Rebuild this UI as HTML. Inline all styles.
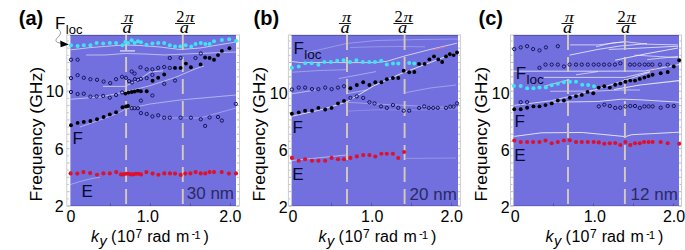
<!DOCTYPE html><html><head><meta charset="utf-8"><style>html,body{margin:0;padding:0;background:#fff;overflow:hidden;}svg{display:block;}</style></head><body>
<svg width="685" height="250" viewBox="0 0 685 250">
<rect width="685" height="250" fill="#fff"/>
<rect x="66.8" y="35" width="172.7" height="171" fill="none" stroke="#cccccc" stroke-width="1"/>
<rect x="70.4" y="35" width="165.6" height="171" fill="#7170de"/>
<rect x="70.4" y="35" width="165.6" height="1" fill="#4e4ea6" opacity="0.8"/>
<rect x="70.4" y="205.2" width="165.6" height="0.8" fill="#5252aa" opacity="0.6"/>
<rect x="67.3" y="205.50" width="2.2" height="1" fill="#888" opacity="0.55"/>
<rect x="236.8" y="205.50" width="2.2" height="1" fill="#888" opacity="0.55"/>
<rect x="67.3" y="198.32" width="1.4" height="1" fill="#888" opacity="0.55"/>
<rect x="237.6" y="198.32" width="1.4" height="1" fill="#888" opacity="0.55"/>
<rect x="67.3" y="191.15" width="2.2" height="1" fill="#888" opacity="0.55"/>
<rect x="236.8" y="191.15" width="2.2" height="1" fill="#888" opacity="0.55"/>
<rect x="67.3" y="183.97" width="1.4" height="1" fill="#888" opacity="0.55"/>
<rect x="237.6" y="183.97" width="1.4" height="1" fill="#888" opacity="0.55"/>
<rect x="67.3" y="176.80" width="2.2" height="1" fill="#888" opacity="0.55"/>
<rect x="236.8" y="176.80" width="2.2" height="1" fill="#888" opacity="0.55"/>
<rect x="67.3" y="169.62" width="1.4" height="1" fill="#888" opacity="0.55"/>
<rect x="237.6" y="169.62" width="1.4" height="1" fill="#888" opacity="0.55"/>
<rect x="67.3" y="162.45" width="2.2" height="1" fill="#888" opacity="0.55"/>
<rect x="236.8" y="162.45" width="2.2" height="1" fill="#888" opacity="0.55"/>
<rect x="67.3" y="155.28" width="1.4" height="1" fill="#888" opacity="0.55"/>
<rect x="237.6" y="155.28" width="1.4" height="1" fill="#888" opacity="0.55"/>
<rect x="67.3" y="148.10" width="2.2" height="1" fill="#888" opacity="0.55"/>
<rect x="236.8" y="148.10" width="2.2" height="1" fill="#888" opacity="0.55"/>
<rect x="67.3" y="140.93" width="1.4" height="1" fill="#888" opacity="0.55"/>
<rect x="237.6" y="140.93" width="1.4" height="1" fill="#888" opacity="0.55"/>
<rect x="67.3" y="133.75" width="2.2" height="1" fill="#888" opacity="0.55"/>
<rect x="236.8" y="133.75" width="2.2" height="1" fill="#888" opacity="0.55"/>
<rect x="67.3" y="126.58" width="1.4" height="1" fill="#888" opacity="0.55"/>
<rect x="237.6" y="126.58" width="1.4" height="1" fill="#888" opacity="0.55"/>
<rect x="67.3" y="119.40" width="2.2" height="1" fill="#888" opacity="0.55"/>
<rect x="236.8" y="119.40" width="2.2" height="1" fill="#888" opacity="0.55"/>
<rect x="67.3" y="112.23" width="1.4" height="1" fill="#888" opacity="0.55"/>
<rect x="237.6" y="112.23" width="1.4" height="1" fill="#888" opacity="0.55"/>
<rect x="67.3" y="105.05" width="2.2" height="1" fill="#888" opacity="0.55"/>
<rect x="236.8" y="105.05" width="2.2" height="1" fill="#888" opacity="0.55"/>
<rect x="67.3" y="97.88" width="1.4" height="1" fill="#888" opacity="0.55"/>
<rect x="237.6" y="97.88" width="1.4" height="1" fill="#888" opacity="0.55"/>
<rect x="67.3" y="90.70" width="2.2" height="1" fill="#888" opacity="0.55"/>
<rect x="236.8" y="90.70" width="2.2" height="1" fill="#888" opacity="0.55"/>
<rect x="67.3" y="83.53" width="1.4" height="1" fill="#888" opacity="0.55"/>
<rect x="237.6" y="83.53" width="1.4" height="1" fill="#888" opacity="0.55"/>
<rect x="67.3" y="76.35" width="2.2" height="1" fill="#888" opacity="0.55"/>
<rect x="236.8" y="76.35" width="2.2" height="1" fill="#888" opacity="0.55"/>
<rect x="67.3" y="69.18" width="1.4" height="1" fill="#888" opacity="0.55"/>
<rect x="237.6" y="69.18" width="1.4" height="1" fill="#888" opacity="0.55"/>
<rect x="67.3" y="62.00" width="2.2" height="1" fill="#888" opacity="0.55"/>
<rect x="236.8" y="62.00" width="2.2" height="1" fill="#888" opacity="0.55"/>
<rect x="67.3" y="54.83" width="1.4" height="1" fill="#888" opacity="0.55"/>
<rect x="237.6" y="54.83" width="1.4" height="1" fill="#888" opacity="0.55"/>
<rect x="67.3" y="47.65" width="2.2" height="1" fill="#888" opacity="0.55"/>
<rect x="236.8" y="47.65" width="2.2" height="1" fill="#888" opacity="0.55"/>
<rect x="67.3" y="40.47" width="1.4" height="1" fill="#888" opacity="0.55"/>
<rect x="237.6" y="40.47" width="1.4" height="1" fill="#888" opacity="0.55"/>
<rect x="109.9" y="203.5" width="1" height="2.5" fill="#333" opacity="0.5"/>
<rect x="149.9" y="203.5" width="1" height="2.5" fill="#333" opacity="0.5"/>
<rect x="189.9" y="203.5" width="1" height="2.5" fill="#333" opacity="0.5"/>
<rect x="229.9" y="203.5" width="1" height="2.5" fill="#333" opacity="0.5"/>
<polyline points="71.0,49.8 91.0,47.5 110.0,46.0 125.0,45.0 140.0,45.5 160.0,47.0 180.0,49.5 200.0,48.0 236.0,42.0" fill="none" stroke="#fff" stroke-opacity="0.59" stroke-width="1"/>
<polyline points="86.0,55.0 105.0,55.0 125.0,53.5 145.0,54.0 165.0,55.0 185.0,54.0 236.0,52.0" fill="none" stroke="#fff" stroke-opacity="0.52" stroke-width="1"/>
<polyline points="120.0,50.9 135.0,50.9" fill="none" stroke="#fff" stroke-opacity="0.75" stroke-width="1.3"/>
<polyline points="71.0,99.2 100.0,97.0 125.0,92.0 150.0,85.7 175.0,77.5 196.0,68.6 204.0,66.0" fill="none" stroke="#fff" stroke-opacity="0.52" stroke-width="1"/>
<polyline points="80.0,127.0 100.0,120.0 116.0,114.0 126.0,109.0 150.0,104.0 180.0,100.0 236.0,95.0" fill="none" stroke="#fff" stroke-opacity="0.45" stroke-width="1"/>
<polyline points="103.0,86.4 125.0,86.4 140.0,79.0 150.0,72.0 163.0,70.8" fill="none" stroke="#fff" stroke-opacity="0.59" stroke-width="1"/>
<polyline points="70.5,184.5 80.0,181.5 92.0,178.5 100.0,177.2" fill="none" stroke="#fff" stroke-opacity="0.36" stroke-width="1"/>
<polyline points="160.0,118.0 200.0,118.0 236.0,108.0" fill="none" stroke="#fff" stroke-opacity="0.33" stroke-width="1"/>
<line x1="126.1" y1="35" x2="126.1" y2="206" stroke="#d4cbbb" stroke-width="1.9" stroke-dasharray="15 7"/>
<line x1="182.8" y1="35" x2="182.8" y2="206" stroke="#d4cbbb" stroke-width="1.9" stroke-dasharray="15 7"/>
<circle cx="71.0" cy="59.7" r="1.65" fill="none" stroke="#16165c" stroke-width="1"/>
<circle cx="77.6" cy="59.7" r="1.65" fill="none" stroke="#16165c" stroke-width="1"/>
<circle cx="169.8" cy="58.0" r="1.65" fill="none" stroke="#16165c" stroke-width="1"/>
<circle cx="180.6" cy="58.0" r="1.65" fill="none" stroke="#16165c" stroke-width="1"/>
<circle cx="195.5" cy="58.0" r="1.65" fill="none" stroke="#16165c" stroke-width="1"/>
<circle cx="200.8" cy="53.5" r="1.65" fill="none" stroke="#16165c" stroke-width="1"/>
<circle cx="140.5" cy="67.3" r="1.65" fill="none" stroke="#16165c" stroke-width="1"/>
<circle cx="146.7" cy="69.3" r="1.65" fill="none" stroke="#16165c" stroke-width="1"/>
<circle cx="152.4" cy="69.3" r="1.65" fill="none" stroke="#16165c" stroke-width="1"/>
<circle cx="158.2" cy="67.9" r="1.65" fill="none" stroke="#16165c" stroke-width="1"/>
<circle cx="164.2" cy="67.0" r="1.65" fill="none" stroke="#16165c" stroke-width="1"/>
<circle cx="169.8" cy="67.9" r="1.65" fill="none" stroke="#16165c" stroke-width="1"/>
<circle cx="131.7" cy="71.5" r="1.65" fill="none" stroke="#16165c" stroke-width="1"/>
<circle cx="134.6" cy="73.6" r="1.65" fill="none" stroke="#16165c" stroke-width="1"/>
<circle cx="152.4" cy="74.9" r="1.65" fill="none" stroke="#16165c" stroke-width="1"/>
<circle cx="71.0" cy="78.1" r="1.65" fill="none" stroke="#16165c" stroke-width="1"/>
<circle cx="77.6" cy="75.2" r="1.65" fill="none" stroke="#16165c" stroke-width="1"/>
<circle cx="83.8" cy="77.8" r="1.65" fill="none" stroke="#16165c" stroke-width="1"/>
<circle cx="90.4" cy="79.2" r="1.65" fill="none" stroke="#16165c" stroke-width="1"/>
<circle cx="97.0" cy="79.8" r="1.65" fill="none" stroke="#16165c" stroke-width="1"/>
<circle cx="103.6" cy="81.5" r="1.65" fill="none" stroke="#16165c" stroke-width="1"/>
<circle cx="110.2" cy="83.1" r="1.65" fill="none" stroke="#16165c" stroke-width="1"/>
<circle cx="116.1" cy="79.2" r="1.65" fill="none" stroke="#16165c" stroke-width="1"/>
<circle cx="122.1" cy="76.8" r="1.65" fill="none" stroke="#16165c" stroke-width="1"/>
<circle cx="126.0" cy="77.8" r="1.65" fill="none" stroke="#16165c" stroke-width="1"/>
<circle cx="129.1" cy="81.1" r="1.65" fill="none" stroke="#16165c" stroke-width="1"/>
<circle cx="132.0" cy="82.4" r="1.65" fill="none" stroke="#16165c" stroke-width="1"/>
<circle cx="134.9" cy="79.2" r="1.65" fill="none" stroke="#16165c" stroke-width="1"/>
<circle cx="137.9" cy="79.8" r="1.65" fill="none" stroke="#16165c" stroke-width="1"/>
<circle cx="140.9" cy="78.9" r="1.65" fill="none" stroke="#16165c" stroke-width="1"/>
<circle cx="146.7" cy="78.1" r="1.65" fill="none" stroke="#16165c" stroke-width="1"/>
<circle cx="164.2" cy="83.8" r="1.65" fill="none" stroke="#16165c" stroke-width="1"/>
<circle cx="175.0" cy="80.5" r="1.65" fill="none" stroke="#16165c" stroke-width="1"/>
<circle cx="71.0" cy="92.0" r="1.65" fill="none" stroke="#16165c" stroke-width="1"/>
<circle cx="77.6" cy="94.0" r="1.65" fill="none" stroke="#16165c" stroke-width="1"/>
<circle cx="83.8" cy="93.7" r="1.65" fill="none" stroke="#16165c" stroke-width="1"/>
<circle cx="90.4" cy="96.6" r="1.65" fill="none" stroke="#16165c" stroke-width="1"/>
<circle cx="96.6" cy="96.3" r="1.65" fill="none" stroke="#16165c" stroke-width="1"/>
<circle cx="103.2" cy="95.9" r="1.65" fill="none" stroke="#16165c" stroke-width="1"/>
<circle cx="109.8" cy="97.7" r="1.65" fill="none" stroke="#16165c" stroke-width="1"/>
<circle cx="116.1" cy="95.0" r="1.65" fill="none" stroke="#16165c" stroke-width="1"/>
<circle cx="122.1" cy="92.4" r="1.65" fill="none" stroke="#16165c" stroke-width="1"/>
<circle cx="140.9" cy="100.6" r="1.65" fill="none" stroke="#16165c" stroke-width="1"/>
<circle cx="152.4" cy="95.5" r="1.65" fill="none" stroke="#16165c" stroke-width="1"/>
<circle cx="235.8" cy="103.9" r="1.65" fill="none" stroke="#16165c" stroke-width="1"/>
<circle cx="131.7" cy="108.2" r="1.65" fill="none" stroke="#16165c" stroke-width="1"/>
<circle cx="134.6" cy="108.2" r="1.65" fill="none" stroke="#16165c" stroke-width="1"/>
<circle cx="137.9" cy="108.2" r="1.65" fill="none" stroke="#16165c" stroke-width="1"/>
<circle cx="140.9" cy="113.1" r="1.65" fill="none" stroke="#16165c" stroke-width="1"/>
<circle cx="146.7" cy="114.0" r="1.65" fill="none" stroke="#16165c" stroke-width="1"/>
<circle cx="152.4" cy="116.4" r="1.65" fill="none" stroke="#16165c" stroke-width="1"/>
<circle cx="158.2" cy="115.3" r="1.65" fill="none" stroke="#16165c" stroke-width="1"/>
<circle cx="164.2" cy="117.7" r="1.65" fill="none" stroke="#16165c" stroke-width="1"/>
<circle cx="169.8" cy="117.7" r="1.65" fill="none" stroke="#16165c" stroke-width="1"/>
<circle cx="180.6" cy="117.7" r="1.65" fill="none" stroke="#16165c" stroke-width="1"/>
<circle cx="190.9" cy="117.7" r="1.65" fill="none" stroke="#16165c" stroke-width="1"/>
<circle cx="200.8" cy="119.3" r="1.65" fill="none" stroke="#16165c" stroke-width="1"/>
<circle cx="205.1" cy="125.9" r="1.65" fill="none" stroke="#16165c" stroke-width="1"/>
<circle cx="209.6" cy="117.4" r="1.65" fill="none" stroke="#16165c" stroke-width="1"/>
<circle cx="218.0" cy="117.0" r="1.65" fill="none" stroke="#16165c" stroke-width="1"/>
<circle cx="221.9" cy="120.6" r="1.65" fill="none" stroke="#16165c" stroke-width="1"/>
<circle cx="205.1" cy="57.5" r="1.95" fill="#000"/>
<circle cx="209.6" cy="58.0" r="1.95" fill="#000"/>
<circle cx="214.0" cy="59.7" r="1.95" fill="#000"/>
<circle cx="218.0" cy="55.1" r="1.95" fill="#000"/>
<circle cx="221.9" cy="50.9" r="1.95" fill="#000"/>
<circle cx="229.4" cy="48.2" r="1.95" fill="#000"/>
<circle cx="185.9" cy="63.6" r="1.95" fill="#000"/>
<circle cx="190.9" cy="67.3" r="1.95" fill="#000"/>
<circle cx="200.6" cy="64.4" r="1.95" fill="#000"/>
<circle cx="175.0" cy="67.9" r="1.95" fill="#000"/>
<circle cx="180.6" cy="67.9" r="1.95" fill="#000"/>
<circle cx="152.6" cy="80.7" r="1.95" fill="#000"/>
<circle cx="158.2" cy="77.8" r="1.95" fill="#000"/>
<circle cx="164.2" cy="74.5" r="1.95" fill="#000"/>
<circle cx="125.4" cy="93.6" r="1.95" fill="#000"/>
<circle cx="128.5" cy="92.6" r="1.95" fill="#000"/>
<circle cx="131.7" cy="92.0" r="1.95" fill="#000"/>
<circle cx="134.6" cy="91.5" r="1.95" fill="#000"/>
<circle cx="137.9" cy="90.8" r="1.95" fill="#000"/>
<circle cx="140.9" cy="91.2" r="1.95" fill="#000"/>
<circle cx="146.7" cy="91.2" r="1.95" fill="#000"/>
<circle cx="71.0" cy="125.2" r="1.95" fill="#000"/>
<circle cx="77.6" cy="122.9" r="1.95" fill="#000"/>
<circle cx="83.8" cy="121.9" r="1.95" fill="#000"/>
<circle cx="90.4" cy="121.0" r="1.95" fill="#000"/>
<circle cx="97.0" cy="119.3" r="1.95" fill="#000"/>
<circle cx="103.6" cy="117.0" r="1.95" fill="#000"/>
<circle cx="109.8" cy="114.4" r="1.95" fill="#000"/>
<circle cx="116.1" cy="112.2" r="1.95" fill="#000"/>
<circle cx="122.5" cy="107.2" r="1.95" fill="#000"/>
<circle cx="126.0" cy="106.5" r="1.95" fill="#000"/>
<circle cx="128.0" cy="106.0" r="1.95" fill="#000"/>
<circle cx="71.0" cy="45.2" r="2.0" fill="#3fe3f2"/>
<circle cx="77.6" cy="45.9" r="2.0" fill="#3fe3f2"/>
<circle cx="83.8" cy="45.2" r="2.0" fill="#3fe3f2"/>
<circle cx="90.4" cy="45.2" r="2.0" fill="#3fe3f2"/>
<circle cx="96.6" cy="43.0" r="2.0" fill="#3fe3f2"/>
<circle cx="103.2" cy="43.5" r="2.0" fill="#3fe3f2"/>
<circle cx="109.8" cy="43.0" r="2.0" fill="#3fe3f2"/>
<circle cx="116.1" cy="43.0" r="2.0" fill="#3fe3f2"/>
<circle cx="122.5" cy="45.2" r="2.0" fill="#3fe3f2"/>
<circle cx="125.4" cy="41.9" r="2.0" fill="#3fe3f2"/>
<circle cx="128.0" cy="43.0" r="2.0" fill="#3fe3f2"/>
<circle cx="131.7" cy="40.3" r="2.0" fill="#3fe3f2"/>
<circle cx="134.6" cy="43.0" r="2.0" fill="#3fe3f2"/>
<circle cx="137.9" cy="41.3" r="2.0" fill="#3fe3f2"/>
<circle cx="141.0" cy="42.2" r="2.0" fill="#3fe3f2"/>
<circle cx="146.5" cy="44.8" r="2.0" fill="#3fe3f2"/>
<circle cx="152.4" cy="43.5" r="2.0" fill="#3fe3f2"/>
<circle cx="158.2" cy="43.0" r="2.0" fill="#3fe3f2"/>
<circle cx="164.2" cy="43.0" r="2.0" fill="#3fe3f2"/>
<circle cx="169.8" cy="45.2" r="2.0" fill="#3fe3f2"/>
<circle cx="175.0" cy="46.5" r="2.0" fill="#3fe3f2"/>
<circle cx="180.3" cy="46.5" r="2.0" fill="#3fe3f2"/>
<circle cx="185.6" cy="45.2" r="2.0" fill="#3fe3f2"/>
<circle cx="191.2" cy="46.5" r="2.0" fill="#3fe3f2"/>
<circle cx="195.5" cy="43.9" r="2.0" fill="#3fe3f2"/>
<circle cx="200.8" cy="43.0" r="2.0" fill="#3fe3f2"/>
<circle cx="205.4" cy="43.9" r="2.0" fill="#3fe3f2"/>
<circle cx="209.6" cy="43.9" r="2.0" fill="#3fe3f2"/>
<circle cx="214.0" cy="41.3" r="2.0" fill="#3fe3f2"/>
<circle cx="221.9" cy="39.9" r="2.0" fill="#3fe3f2"/>
<circle cx="229.2" cy="39.3" r="2.0" fill="#3fe3f2"/>
<circle cx="236.0" cy="40.9" r="2.0" fill="#3fe3f2"/>
<circle cx="70.6" cy="173.4" r="2.05" fill="#e0102a"/>
<circle cx="77.3" cy="173.6" r="2.05" fill="#e0102a"/>
<circle cx="83.4" cy="172.1" r="2.05" fill="#e0102a"/>
<circle cx="90.1" cy="173.1" r="2.05" fill="#e0102a"/>
<circle cx="97.0" cy="174.7" r="2.05" fill="#e0102a"/>
<circle cx="103.4" cy="173.4" r="2.05" fill="#e0102a"/>
<circle cx="109.8" cy="173.4" r="2.05" fill="#e0102a"/>
<circle cx="116.2" cy="172.1" r="2.05" fill="#e0102a"/>
<circle cx="146.4" cy="172.1" r="2.05" fill="#e0102a"/>
<circle cx="152.6" cy="173.6" r="2.05" fill="#e0102a"/>
<circle cx="158.4" cy="174.7" r="2.05" fill="#e0102a"/>
<circle cx="164.3" cy="173.4" r="2.05" fill="#e0102a"/>
<circle cx="170.0" cy="173.4" r="2.05" fill="#e0102a"/>
<circle cx="175.1" cy="173.6" r="2.05" fill="#e0102a"/>
<circle cx="180.7" cy="174.9" r="2.05" fill="#e0102a"/>
<circle cx="185.3" cy="173.6" r="2.05" fill="#e0102a"/>
<circle cx="190.4" cy="173.4" r="2.05" fill="#e0102a"/>
<circle cx="195.6" cy="172.1" r="2.05" fill="#e0102a"/>
<circle cx="200.7" cy="173.4" r="2.05" fill="#e0102a"/>
<circle cx="205.3" cy="173.4" r="2.05" fill="#e0102a"/>
<circle cx="209.6" cy="172.1" r="2.05" fill="#e0102a"/>
<circle cx="214.0" cy="172.1" r="2.05" fill="#e0102a"/>
<circle cx="221.7" cy="172.1" r="2.05" fill="#e0102a"/>
<circle cx="228.9" cy="173.6" r="2.05" fill="#e0102a"/>
<circle cx="236.0" cy="173.4" r="2.05" fill="#e0102a"/>
<circle cx="121.0" cy="174.4" r="2.05" fill="#e0102a"/>
<circle cx="123.5" cy="174.4" r="2.05" fill="#e0102a"/>
<circle cx="126.0" cy="173.7" r="2.05" fill="#e0102a"/>
<circle cx="128.5" cy="173.7" r="2.05" fill="#e0102a"/>
<circle cx="131.0" cy="174.4" r="2.05" fill="#e0102a"/>
<circle cx="133.5" cy="174.4" r="2.05" fill="#e0102a"/>
<circle cx="136.0" cy="173.7" r="2.05" fill="#e0102a"/>
<circle cx="138.5" cy="173.7" r="2.05" fill="#e0102a"/>
<circle cx="141.0" cy="174.4" r="2.05" fill="#e0102a"/>
<rect x="288.4" y="35" width="172.0" height="171" fill="none" stroke="#cccccc" stroke-width="1"/>
<rect x="291.6" y="35" width="166.39999999999998" height="171" fill="#7170de"/>
<rect x="291.6" y="35" width="166.39999999999998" height="1" fill="#4e4ea6" opacity="0.8"/>
<rect x="291.6" y="205.2" width="166.39999999999998" height="0.8" fill="#5252aa" opacity="0.6"/>
<rect x="288.9" y="205.50" width="2.2" height="1" fill="#888" opacity="0.55"/>
<rect x="457.7" y="205.50" width="2.2" height="1" fill="#888" opacity="0.55"/>
<rect x="288.9" y="198.32" width="1.4" height="1" fill="#888" opacity="0.55"/>
<rect x="458.5" y="198.32" width="1.4" height="1" fill="#888" opacity="0.55"/>
<rect x="288.9" y="191.15" width="2.2" height="1" fill="#888" opacity="0.55"/>
<rect x="457.7" y="191.15" width="2.2" height="1" fill="#888" opacity="0.55"/>
<rect x="288.9" y="183.97" width="1.4" height="1" fill="#888" opacity="0.55"/>
<rect x="458.5" y="183.97" width="1.4" height="1" fill="#888" opacity="0.55"/>
<rect x="288.9" y="176.80" width="2.2" height="1" fill="#888" opacity="0.55"/>
<rect x="457.7" y="176.80" width="2.2" height="1" fill="#888" opacity="0.55"/>
<rect x="288.9" y="169.62" width="1.4" height="1" fill="#888" opacity="0.55"/>
<rect x="458.5" y="169.62" width="1.4" height="1" fill="#888" opacity="0.55"/>
<rect x="288.9" y="162.45" width="2.2" height="1" fill="#888" opacity="0.55"/>
<rect x="457.7" y="162.45" width="2.2" height="1" fill="#888" opacity="0.55"/>
<rect x="288.9" y="155.28" width="1.4" height="1" fill="#888" opacity="0.55"/>
<rect x="458.5" y="155.28" width="1.4" height="1" fill="#888" opacity="0.55"/>
<rect x="288.9" y="148.10" width="2.2" height="1" fill="#888" opacity="0.55"/>
<rect x="457.7" y="148.10" width="2.2" height="1" fill="#888" opacity="0.55"/>
<rect x="288.9" y="140.93" width="1.4" height="1" fill="#888" opacity="0.55"/>
<rect x="458.5" y="140.93" width="1.4" height="1" fill="#888" opacity="0.55"/>
<rect x="288.9" y="133.75" width="2.2" height="1" fill="#888" opacity="0.55"/>
<rect x="457.7" y="133.75" width="2.2" height="1" fill="#888" opacity="0.55"/>
<rect x="288.9" y="126.58" width="1.4" height="1" fill="#888" opacity="0.55"/>
<rect x="458.5" y="126.58" width="1.4" height="1" fill="#888" opacity="0.55"/>
<rect x="288.9" y="119.40" width="2.2" height="1" fill="#888" opacity="0.55"/>
<rect x="457.7" y="119.40" width="2.2" height="1" fill="#888" opacity="0.55"/>
<rect x="288.9" y="112.23" width="1.4" height="1" fill="#888" opacity="0.55"/>
<rect x="458.5" y="112.23" width="1.4" height="1" fill="#888" opacity="0.55"/>
<rect x="288.9" y="105.05" width="2.2" height="1" fill="#888" opacity="0.55"/>
<rect x="457.7" y="105.05" width="2.2" height="1" fill="#888" opacity="0.55"/>
<rect x="288.9" y="97.88" width="1.4" height="1" fill="#888" opacity="0.55"/>
<rect x="458.5" y="97.88" width="1.4" height="1" fill="#888" opacity="0.55"/>
<rect x="288.9" y="90.70" width="2.2" height="1" fill="#888" opacity="0.55"/>
<rect x="457.7" y="90.70" width="2.2" height="1" fill="#888" opacity="0.55"/>
<rect x="288.9" y="83.53" width="1.4" height="1" fill="#888" opacity="0.55"/>
<rect x="458.5" y="83.53" width="1.4" height="1" fill="#888" opacity="0.55"/>
<rect x="288.9" y="76.35" width="2.2" height="1" fill="#888" opacity="0.55"/>
<rect x="457.7" y="76.35" width="2.2" height="1" fill="#888" opacity="0.55"/>
<rect x="288.9" y="69.18" width="1.4" height="1" fill="#888" opacity="0.55"/>
<rect x="458.5" y="69.18" width="1.4" height="1" fill="#888" opacity="0.55"/>
<rect x="288.9" y="62.00" width="2.2" height="1" fill="#888" opacity="0.55"/>
<rect x="457.7" y="62.00" width="2.2" height="1" fill="#888" opacity="0.55"/>
<rect x="288.9" y="54.83" width="1.4" height="1" fill="#888" opacity="0.55"/>
<rect x="458.5" y="54.83" width="1.4" height="1" fill="#888" opacity="0.55"/>
<rect x="288.9" y="47.65" width="2.2" height="1" fill="#888" opacity="0.55"/>
<rect x="457.7" y="47.65" width="2.2" height="1" fill="#888" opacity="0.55"/>
<rect x="288.9" y="40.47" width="1.4" height="1" fill="#888" opacity="0.55"/>
<rect x="458.5" y="40.47" width="1.4" height="1" fill="#888" opacity="0.55"/>
<rect x="331.1" y="203.5" width="1" height="2.5" fill="#333" opacity="0.5"/>
<rect x="371.1" y="203.5" width="1" height="2.5" fill="#333" opacity="0.5"/>
<rect x="411.1" y="203.5" width="1" height="2.5" fill="#333" opacity="0.5"/>
<rect x="451.1" y="203.5" width="1" height="2.5" fill="#333" opacity="0.5"/>
<polyline points="292.0,93.8 315.6,90.0" fill="none" stroke="#fff" stroke-opacity="0.52" stroke-width="1"/>
<polyline points="292.0,116.2 320.0,110.0 346.3,102.2 374.0,85.7 400.0,74.0 431.6,62.0 458.0,52.0" fill="none" stroke="#fff" stroke-opacity="0.75" stroke-width="1"/>
<polyline points="346.3,102.2 376.0,104.0 460.0,108.0" fill="none" stroke="#fff" stroke-opacity="0.33" stroke-width="1"/>
<polyline points="347.6,111.1 376.0,109.8 420.0,110.0 458.0,109.0" fill="none" stroke="#fff" stroke-opacity="0.2" stroke-width="1"/>
<polyline points="346.3,93.8 366.8,90.0" fill="none" stroke="#fff" stroke-opacity="0.45" stroke-width="1"/>
<polyline points="350.0,47.5 374.0,46.8 400.0,46.5 425.0,46.8" fill="none" stroke="#fff" stroke-opacity="0.26" stroke-width="1"/>
<polyline points="406.0,92.6 430.0,88.0 456.0,85.0" fill="none" stroke="#fff" stroke-opacity="0.33" stroke-width="1"/>
<polyline points="292.0,72.2 320.0,70.5 346.0,69.7" fill="none" stroke="#fff" stroke-opacity="0.33" stroke-width="1"/>
<polyline points="292.0,61.5 300.0,62.5 320.0,62.5 350.0,62.6 375.0,62.6 387.0,61.3 404.7,56.0 430.0,49.5 457.0,43.2" fill="none" stroke="#fff" stroke-opacity="0.65" stroke-width="1"/>
<polyline points="338.7,78.6 376.0,71.6" fill="none" stroke="#fff" stroke-opacity="0.39" stroke-width="1"/>
<polyline points="292.0,160.5 346.0,155.0" fill="none" stroke="#fff" stroke-opacity="0.45" stroke-width="1"/>
<polyline points="406.0,158.4 456.0,158.0" fill="none" stroke="#fff" stroke-opacity="0.26" stroke-width="1"/>
<polyline points="305.0,53.0 325.0,48.5 346.0,43.6 376.0,40.5 420.0,39.5 458.0,39.0" fill="none" stroke="#fff" stroke-opacity="0.29" stroke-width="1"/>
<line x1="347" y1="35" x2="347" y2="206" stroke="#d4cbbb" stroke-width="1.9" stroke-dasharray="15 7"/>
<line x1="404.6" y1="35" x2="404.6" y2="206" stroke="#d4cbbb" stroke-width="1.9" stroke-dasharray="15 7"/>
<circle cx="291.9" cy="89.5" r="1.65" fill="none" stroke="#16165c" stroke-width="1"/>
<circle cx="298.7" cy="87.6" r="1.65" fill="none" stroke="#16165c" stroke-width="1"/>
<circle cx="305.1" cy="87.6" r="1.65" fill="none" stroke="#16165c" stroke-width="1"/>
<circle cx="312.0" cy="89.1" r="1.65" fill="none" stroke="#16165c" stroke-width="1"/>
<circle cx="318.4" cy="89.1" r="1.65" fill="none" stroke="#16165c" stroke-width="1"/>
<circle cx="325.2" cy="87.6" r="1.65" fill="none" stroke="#16165c" stroke-width="1"/>
<circle cx="331.6" cy="89.1" r="1.65" fill="none" stroke="#16165c" stroke-width="1"/>
<circle cx="338.0" cy="87.6" r="1.65" fill="none" stroke="#16165c" stroke-width="1"/>
<circle cx="344.0" cy="86.3" r="1.65" fill="none" stroke="#16165c" stroke-width="1"/>
<circle cx="350.4" cy="97.9" r="1.65" fill="none" stroke="#16165c" stroke-width="1"/>
<circle cx="356.8" cy="96.4" r="1.65" fill="none" stroke="#16165c" stroke-width="1"/>
<circle cx="363.2" cy="97.9" r="1.65" fill="none" stroke="#16165c" stroke-width="1"/>
<circle cx="369.4" cy="102.2" r="1.65" fill="none" stroke="#16165c" stroke-width="1"/>
<circle cx="374.5" cy="103.4" r="1.65" fill="none" stroke="#16165c" stroke-width="1"/>
<circle cx="381.0" cy="106.4" r="1.65" fill="none" stroke="#16165c" stroke-width="1"/>
<circle cx="386.8" cy="107.9" r="1.65" fill="none" stroke="#16165c" stroke-width="1"/>
<circle cx="392.9" cy="105.1" r="1.65" fill="none" stroke="#16165c" stroke-width="1"/>
<circle cx="398.3" cy="107.9" r="1.65" fill="none" stroke="#16165c" stroke-width="1"/>
<circle cx="403.7" cy="110.7" r="1.65" fill="none" stroke="#16165c" stroke-width="1"/>
<circle cx="409.2" cy="110.7" r="1.65" fill="none" stroke="#16165c" stroke-width="1"/>
<circle cx="419.1" cy="107.9" r="1.65" fill="none" stroke="#16165c" stroke-width="1"/>
<circle cx="424.2" cy="106.4" r="1.65" fill="none" stroke="#16165c" stroke-width="1"/>
<circle cx="428.8" cy="107.9" r="1.65" fill="none" stroke="#16165c" stroke-width="1"/>
<circle cx="433.2" cy="107.9" r="1.65" fill="none" stroke="#16165c" stroke-width="1"/>
<circle cx="437.8" cy="107.9" r="1.65" fill="none" stroke="#16165c" stroke-width="1"/>
<circle cx="446.0" cy="107.9" r="1.65" fill="none" stroke="#16165c" stroke-width="1"/>
<circle cx="450.2" cy="106.6" r="1.65" fill="none" stroke="#16165c" stroke-width="1"/>
<circle cx="453.6" cy="106.6" r="1.65" fill="none" stroke="#16165c" stroke-width="1"/>
<circle cx="457.0" cy="103.4" r="1.65" fill="none" stroke="#16165c" stroke-width="1"/>
<circle cx="350.4" cy="88.2" r="1.95" fill="#000"/>
<circle cx="356.8" cy="85.0" r="1.95" fill="#000"/>
<circle cx="363.2" cy="82.2" r="1.95" fill="#000"/>
<circle cx="369.4" cy="85.0" r="1.95" fill="#000"/>
<circle cx="375.3" cy="82.2" r="1.95" fill="#000"/>
<circle cx="381.4" cy="82.2" r="1.95" fill="#000"/>
<circle cx="386.8" cy="79.3" r="1.95" fill="#000"/>
<circle cx="392.9" cy="78.0" r="1.95" fill="#000"/>
<circle cx="398.3" cy="78.0" r="1.95" fill="#000"/>
<circle cx="403.7" cy="70.7" r="1.95" fill="#000"/>
<circle cx="409.2" cy="72.2" r="1.95" fill="#000"/>
<circle cx="414.3" cy="72.0" r="1.95" fill="#000"/>
<circle cx="419.0" cy="63.9" r="1.95" fill="#000"/>
<circle cx="424.6" cy="63.9" r="1.95" fill="#000"/>
<circle cx="429.4" cy="59.4" r="1.95" fill="#000"/>
<circle cx="434.0" cy="56.4" r="1.95" fill="#000"/>
<circle cx="438.3" cy="59.4" r="1.95" fill="#000"/>
<circle cx="442.2" cy="62.0" r="1.95" fill="#000"/>
<circle cx="446.0" cy="56.4" r="1.95" fill="#000"/>
<circle cx="449.8" cy="54.3" r="1.95" fill="#000"/>
<circle cx="453.7" cy="55.1" r="1.95" fill="#000"/>
<circle cx="457.0" cy="52.5" r="1.95" fill="#000"/>
<circle cx="291.9" cy="113.7" r="1.95" fill="#000"/>
<circle cx="298.7" cy="112.4" r="1.95" fill="#000"/>
<circle cx="305.1" cy="110.7" r="1.95" fill="#000"/>
<circle cx="312.0" cy="110.7" r="1.95" fill="#000"/>
<circle cx="318.4" cy="107.9" r="1.95" fill="#000"/>
<circle cx="325.2" cy="109.5" r="1.95" fill="#000"/>
<circle cx="331.6" cy="107.9" r="1.95" fill="#000"/>
<circle cx="338.0" cy="103.4" r="1.95" fill="#000"/>
<circle cx="344.0" cy="100.9" r="1.95" fill="#000"/>
<circle cx="291.9" cy="67.8" r="2.0" fill="#3fe3f2"/>
<circle cx="298.7" cy="66.5" r="2.0" fill="#3fe3f2"/>
<circle cx="305.1" cy="63.3" r="2.0" fill="#3fe3f2"/>
<circle cx="311.6" cy="63.3" r="2.0" fill="#3fe3f2"/>
<circle cx="318.4" cy="64.8" r="2.0" fill="#3fe3f2"/>
<circle cx="324.4" cy="62.0" r="2.0" fill="#3fe3f2"/>
<circle cx="330.8" cy="62.0" r="2.0" fill="#3fe3f2"/>
<circle cx="337.2" cy="60.7" r="2.0" fill="#3fe3f2"/>
<circle cx="343.6" cy="60.2" r="2.0" fill="#3fe3f2"/>
<circle cx="350.0" cy="62.0" r="2.0" fill="#3fe3f2"/>
<circle cx="356.4" cy="60.2" r="2.0" fill="#3fe3f2"/>
<circle cx="362.8" cy="62.0" r="2.0" fill="#3fe3f2"/>
<circle cx="369.2" cy="62.0" r="2.0" fill="#3fe3f2"/>
<circle cx="375.0" cy="62.0" r="2.0" fill="#3fe3f2"/>
<circle cx="381.2" cy="60.7" r="2.0" fill="#3fe3f2"/>
<circle cx="386.8" cy="64.6" r="2.0" fill="#3fe3f2"/>
<circle cx="393.0" cy="63.5" r="2.0" fill="#3fe3f2"/>
<circle cx="398.3" cy="63.5" r="2.0" fill="#3fe3f2"/>
<circle cx="409.2" cy="63.0" r="2.0" fill="#3fe3f2"/>
<circle cx="414.3" cy="63.5" r="2.0" fill="#3fe3f2"/>
<circle cx="291.9" cy="157.9" r="2.05" fill="#e0102a"/>
<circle cx="298.7" cy="160.7" r="2.05" fill="#e0102a"/>
<circle cx="305.1" cy="159.2" r="2.05" fill="#e0102a"/>
<circle cx="312.0" cy="160.7" r="2.05" fill="#e0102a"/>
<circle cx="318.4" cy="160.7" r="2.05" fill="#e0102a"/>
<circle cx="325.2" cy="160.7" r="2.05" fill="#e0102a"/>
<circle cx="331.6" cy="157.9" r="2.05" fill="#e0102a"/>
<circle cx="338.0" cy="159.2" r="2.05" fill="#e0102a"/>
<circle cx="344.0" cy="159.2" r="2.05" fill="#e0102a"/>
<circle cx="350.4" cy="157.9" r="2.05" fill="#e0102a"/>
<circle cx="356.8" cy="156.4" r="2.05" fill="#e0102a"/>
<circle cx="363.2" cy="155.1" r="2.05" fill="#e0102a"/>
<circle cx="369.4" cy="155.1" r="2.05" fill="#e0102a"/>
<circle cx="375.3" cy="156.5" r="2.05" fill="#e0102a"/>
<circle cx="381.4" cy="153.7" r="2.05" fill="#e0102a"/>
<circle cx="386.8" cy="153.7" r="2.05" fill="#e0102a"/>
<circle cx="392.9" cy="153.7" r="2.05" fill="#e0102a"/>
<circle cx="398.3" cy="158.0" r="2.05" fill="#e0102a"/>
<circle cx="404.1" cy="152.0" r="2.05" fill="#e0102a"/>
<rect x="510.5" y="35" width="171.0" height="171" fill="none" stroke="#cccccc" stroke-width="1"/>
<rect x="513.5" y="35" width="165.5" height="171" fill="#7170de"/>
<rect x="513.5" y="35" width="165.5" height="1" fill="#4e4ea6" opacity="0.8"/>
<rect x="513.5" y="205.2" width="165.5" height="0.8" fill="#5252aa" opacity="0.6"/>
<rect x="511.0" y="205.50" width="2.2" height="1" fill="#888" opacity="0.55"/>
<rect x="678.8" y="205.50" width="2.2" height="1" fill="#888" opacity="0.55"/>
<rect x="511.0" y="198.32" width="1.4" height="1" fill="#888" opacity="0.55"/>
<rect x="679.6" y="198.32" width="1.4" height="1" fill="#888" opacity="0.55"/>
<rect x="511.0" y="191.15" width="2.2" height="1" fill="#888" opacity="0.55"/>
<rect x="678.8" y="191.15" width="2.2" height="1" fill="#888" opacity="0.55"/>
<rect x="511.0" y="183.97" width="1.4" height="1" fill="#888" opacity="0.55"/>
<rect x="679.6" y="183.97" width="1.4" height="1" fill="#888" opacity="0.55"/>
<rect x="511.0" y="176.80" width="2.2" height="1" fill="#888" opacity="0.55"/>
<rect x="678.8" y="176.80" width="2.2" height="1" fill="#888" opacity="0.55"/>
<rect x="511.0" y="169.62" width="1.4" height="1" fill="#888" opacity="0.55"/>
<rect x="679.6" y="169.62" width="1.4" height="1" fill="#888" opacity="0.55"/>
<rect x="511.0" y="162.45" width="2.2" height="1" fill="#888" opacity="0.55"/>
<rect x="678.8" y="162.45" width="2.2" height="1" fill="#888" opacity="0.55"/>
<rect x="511.0" y="155.28" width="1.4" height="1" fill="#888" opacity="0.55"/>
<rect x="679.6" y="155.28" width="1.4" height="1" fill="#888" opacity="0.55"/>
<rect x="511.0" y="148.10" width="2.2" height="1" fill="#888" opacity="0.55"/>
<rect x="678.8" y="148.10" width="2.2" height="1" fill="#888" opacity="0.55"/>
<rect x="511.0" y="140.93" width="1.4" height="1" fill="#888" opacity="0.55"/>
<rect x="679.6" y="140.93" width="1.4" height="1" fill="#888" opacity="0.55"/>
<rect x="511.0" y="133.75" width="2.2" height="1" fill="#888" opacity="0.55"/>
<rect x="678.8" y="133.75" width="2.2" height="1" fill="#888" opacity="0.55"/>
<rect x="511.0" y="126.58" width="1.4" height="1" fill="#888" opacity="0.55"/>
<rect x="679.6" y="126.58" width="1.4" height="1" fill="#888" opacity="0.55"/>
<rect x="511.0" y="119.40" width="2.2" height="1" fill="#888" opacity="0.55"/>
<rect x="678.8" y="119.40" width="2.2" height="1" fill="#888" opacity="0.55"/>
<rect x="511.0" y="112.23" width="1.4" height="1" fill="#888" opacity="0.55"/>
<rect x="679.6" y="112.23" width="1.4" height="1" fill="#888" opacity="0.55"/>
<rect x="511.0" y="105.05" width="2.2" height="1" fill="#888" opacity="0.55"/>
<rect x="678.8" y="105.05" width="2.2" height="1" fill="#888" opacity="0.55"/>
<rect x="511.0" y="97.88" width="1.4" height="1" fill="#888" opacity="0.55"/>
<rect x="679.6" y="97.88" width="1.4" height="1" fill="#888" opacity="0.55"/>
<rect x="511.0" y="90.70" width="2.2" height="1" fill="#888" opacity="0.55"/>
<rect x="678.8" y="90.70" width="2.2" height="1" fill="#888" opacity="0.55"/>
<rect x="511.0" y="83.53" width="1.4" height="1" fill="#888" opacity="0.55"/>
<rect x="679.6" y="83.53" width="1.4" height="1" fill="#888" opacity="0.55"/>
<rect x="511.0" y="76.35" width="2.2" height="1" fill="#888" opacity="0.55"/>
<rect x="678.8" y="76.35" width="2.2" height="1" fill="#888" opacity="0.55"/>
<rect x="511.0" y="69.18" width="1.4" height="1" fill="#888" opacity="0.55"/>
<rect x="679.6" y="69.18" width="1.4" height="1" fill="#888" opacity="0.55"/>
<rect x="511.0" y="62.00" width="2.2" height="1" fill="#888" opacity="0.55"/>
<rect x="678.8" y="62.00" width="2.2" height="1" fill="#888" opacity="0.55"/>
<rect x="511.0" y="54.83" width="1.4" height="1" fill="#888" opacity="0.55"/>
<rect x="679.6" y="54.83" width="1.4" height="1" fill="#888" opacity="0.55"/>
<rect x="511.0" y="47.65" width="2.2" height="1" fill="#888" opacity="0.55"/>
<rect x="678.8" y="47.65" width="2.2" height="1" fill="#888" opacity="0.55"/>
<rect x="511.0" y="40.47" width="1.4" height="1" fill="#888" opacity="0.55"/>
<rect x="679.6" y="40.47" width="1.4" height="1" fill="#888" opacity="0.55"/>
<rect x="553.0" y="203.5" width="1" height="2.5" fill="#333" opacity="0.5"/>
<rect x="593.0" y="203.5" width="1" height="2.5" fill="#333" opacity="0.5"/>
<rect x="633.0" y="203.5" width="1" height="2.5" fill="#333" opacity="0.5"/>
<rect x="673.0" y="203.5" width="1" height="2.5" fill="#333" opacity="0.5"/>
<polyline points="514.3,136.4 541.4,132.8 582.4,132.5 625.4,136.6 631.8,134.7 679.0,132.2" fill="none" stroke="#fff" stroke-opacity="0.78" stroke-width="1"/>
<polyline points="550.4,102.2 598.0,101.5 621.6,99.2 640.0,99.8 679.0,102.2" fill="none" stroke="#fff" stroke-opacity="0.72" stroke-width="1"/>
<polyline points="514.3,105.4 550.4,100.9 569.6,96.4 598.0,89.0 625.4,80.0 650.0,72.0" fill="none" stroke="#fff" stroke-opacity="0.66" stroke-width="1"/>
<polyline points="550.0,91.3 598.0,91.0 620.0,90.0 640.0,90.0" fill="none" stroke="#fff" stroke-opacity="0.54" stroke-width="1"/>
<polyline points="614.0,89.5 640.0,85.0 679.0,80.6" fill="none" stroke="#fff" stroke-opacity="0.78" stroke-width="1.1"/>
<polyline points="513.0,71.2 545.0,71.2 600.0,71.2 644.7,71.0 679.0,64.6" fill="none" stroke="#fff" stroke-opacity="0.72" stroke-width="1"/>
<polyline points="544.0,77.4 600.0,77.4 625.0,77.4 649.8,71.6" fill="none" stroke="#fff" stroke-opacity="0.66" stroke-width="1"/>
<polyline points="544.0,86.3 568.3,79.9" fill="none" stroke="#fff" stroke-opacity="0.6" stroke-width="1"/>
<polyline points="576.0,74.8 598.0,71.6" fill="none" stroke="#fff" stroke-opacity="0.6" stroke-width="1"/>
<polyline points="569.6,55.1 598.0,49.4 620.0,46.0 647.0,43.6" fill="none" stroke="#fff" stroke-opacity="0.72" stroke-width="1"/>
<polyline points="570.0,44.9 598.0,44.9 625.4,41.7 647.0,44.2 678.0,44.9" fill="none" stroke="#fff" stroke-opacity="0.66" stroke-width="1"/>
<polyline points="596.0,46.8 612.0,43.0 625.4,41.7" fill="none" stroke="#fff" stroke-opacity="0.6" stroke-width="1"/>
<polyline points="608.8,49.4 628.0,48.7 678.0,46.2" fill="none" stroke="#fff" stroke-opacity="0.72" stroke-width="1"/>
<polyline points="615.2,60.2 645.0,54.0 678.0,48.0" fill="none" stroke="#fff" stroke-opacity="0.78" stroke-width="1"/>
<polyline points="634.4,55.1 678.0,57.7" fill="none" stroke="#fff" stroke-opacity="0.6" stroke-width="1"/>
<polyline points="647.2,59.6 678.0,56.4" fill="none" stroke="#fff" stroke-opacity="0.6" stroke-width="1"/>
<line x1="568" y1="35" x2="568" y2="206" stroke="#d4cbbb" stroke-width="1.9" stroke-dasharray="15 7"/>
<line x1="624.9" y1="35" x2="624.9" y2="206" stroke="#d4cbbb" stroke-width="1.9" stroke-dasharray="15 7"/>
<circle cx="514.3" cy="49.1" r="1.65" fill="none" stroke="#16165c" stroke-width="1"/>
<circle cx="520.7" cy="47.4" r="1.65" fill="none" stroke="#16165c" stroke-width="1"/>
<circle cx="527.1" cy="46.2" r="1.65" fill="none" stroke="#16165c" stroke-width="1"/>
<circle cx="533.1" cy="49.1" r="1.65" fill="none" stroke="#16165c" stroke-width="1"/>
<circle cx="539.5" cy="50.4" r="1.65" fill="none" stroke="#16165c" stroke-width="1"/>
<circle cx="545.9" cy="47.4" r="1.65" fill="none" stroke="#16165c" stroke-width="1"/>
<circle cx="557.8" cy="46.2" r="1.65" fill="none" stroke="#16165c" stroke-width="1"/>
<circle cx="539.5" cy="67.8" r="1.65" fill="none" stroke="#16165c" stroke-width="1"/>
<circle cx="545.5" cy="64.6" r="1.65" fill="none" stroke="#16165c" stroke-width="1"/>
<circle cx="551.7" cy="64.6" r="1.65" fill="none" stroke="#16165c" stroke-width="1"/>
<circle cx="557.8" cy="64.6" r="1.65" fill="none" stroke="#16165c" stroke-width="1"/>
<circle cx="563.9" cy="66.5" r="1.65" fill="none" stroke="#16165c" stroke-width="1"/>
<circle cx="569.6" cy="64.6" r="1.65" fill="none" stroke="#16165c" stroke-width="1"/>
<circle cx="576.0" cy="64.6" r="1.65" fill="none" stroke="#16165c" stroke-width="1"/>
<circle cx="581.8" cy="64.6" r="1.65" fill="none" stroke="#16165c" stroke-width="1"/>
<circle cx="587.8" cy="64.6" r="1.65" fill="none" stroke="#16165c" stroke-width="1"/>
<circle cx="593.7" cy="64.6" r="1.65" fill="none" stroke="#16165c" stroke-width="1"/>
<circle cx="598.6" cy="64.6" r="1.65" fill="none" stroke="#16165c" stroke-width="1"/>
<circle cx="604.0" cy="64.6" r="1.65" fill="none" stroke="#16165c" stroke-width="1"/>
<circle cx="609.4" cy="64.6" r="1.65" fill="none" stroke="#16165c" stroke-width="1"/>
<circle cx="615.0" cy="64.6" r="1.65" fill="none" stroke="#16165c" stroke-width="1"/>
<circle cx="620.3" cy="63.3" r="1.65" fill="none" stroke="#16165c" stroke-width="1"/>
<circle cx="630.0" cy="64.6" r="1.65" fill="none" stroke="#16165c" stroke-width="1"/>
<circle cx="634.4" cy="64.6" r="1.65" fill="none" stroke="#16165c" stroke-width="1"/>
<circle cx="639.5" cy="64.6" r="1.65" fill="none" stroke="#16165c" stroke-width="1"/>
<circle cx="644.7" cy="64.6" r="1.65" fill="none" stroke="#16165c" stroke-width="1"/>
<circle cx="648.5" cy="64.6" r="1.65" fill="none" stroke="#16165c" stroke-width="1"/>
<circle cx="652.3" cy="64.6" r="1.65" fill="none" stroke="#16165c" stroke-width="1"/>
<circle cx="660.0" cy="64.6" r="1.65" fill="none" stroke="#16165c" stroke-width="1"/>
<circle cx="667.7" cy="64.6" r="1.65" fill="none" stroke="#16165c" stroke-width="1"/>
<circle cx="520.7" cy="102.2" r="1.65" fill="none" stroke="#16165c" stroke-width="1"/>
<circle cx="527.1" cy="102.2" r="1.65" fill="none" stroke="#16165c" stroke-width="1"/>
<circle cx="598.8" cy="106.4" r="1.65" fill="none" stroke="#16165c" stroke-width="1"/>
<circle cx="604.3" cy="104.7" r="1.65" fill="none" stroke="#16165c" stroke-width="1"/>
<circle cx="609.8" cy="106.0" r="1.65" fill="none" stroke="#16165c" stroke-width="1"/>
<circle cx="615.2" cy="107.9" r="1.65" fill="none" stroke="#16165c" stroke-width="1"/>
<circle cx="620.3" cy="107.7" r="1.65" fill="none" stroke="#16165c" stroke-width="1"/>
<circle cx="625.4" cy="106.4" r="1.65" fill="none" stroke="#16165c" stroke-width="1"/>
<circle cx="630.3" cy="106.0" r="1.65" fill="none" stroke="#16165c" stroke-width="1"/>
<circle cx="635.0" cy="106.0" r="1.65" fill="none" stroke="#16165c" stroke-width="1"/>
<circle cx="639.8" cy="107.9" r="1.65" fill="none" stroke="#16165c" stroke-width="1"/>
<circle cx="644.4" cy="106.4" r="1.65" fill="none" stroke="#16165c" stroke-width="1"/>
<circle cx="648.5" cy="106.4" r="1.65" fill="none" stroke="#16165c" stroke-width="1"/>
<circle cx="652.6" cy="106.4" r="1.65" fill="none" stroke="#16165c" stroke-width="1"/>
<circle cx="660.7" cy="107.7" r="1.65" fill="none" stroke="#16165c" stroke-width="1"/>
<circle cx="667.7" cy="106.0" r="1.65" fill="none" stroke="#16165c" stroke-width="1"/>
<circle cx="673.8" cy="106.0" r="1.65" fill="none" stroke="#16165c" stroke-width="1"/>
<circle cx="514.3" cy="109.2" r="1.95" fill="#000"/>
<circle cx="520.7" cy="109.2" r="1.95" fill="#000"/>
<circle cx="527.1" cy="107.7" r="1.95" fill="#000"/>
<circle cx="533.5" cy="106.4" r="1.95" fill="#000"/>
<circle cx="539.5" cy="106.4" r="1.95" fill="#000"/>
<circle cx="545.5" cy="105.1" r="1.95" fill="#000"/>
<circle cx="551.7" cy="103.4" r="1.95" fill="#000"/>
<circle cx="557.8" cy="100.5" r="1.95" fill="#000"/>
<circle cx="563.9" cy="100.5" r="1.95" fill="#000"/>
<circle cx="569.9" cy="97.7" r="1.95" fill="#000"/>
<circle cx="576.0" cy="96.1" r="1.95" fill="#000"/>
<circle cx="581.8" cy="94.9" r="1.95" fill="#000"/>
<circle cx="587.5" cy="91.9" r="1.95" fill="#000"/>
<circle cx="593.3" cy="93.2" r="1.95" fill="#000"/>
<circle cx="598.8" cy="87.6" r="1.95" fill="#000"/>
<circle cx="604.3" cy="86.3" r="1.95" fill="#000"/>
<circle cx="609.8" cy="87.6" r="1.95" fill="#000"/>
<circle cx="615.2" cy="84.8" r="1.95" fill="#000"/>
<circle cx="620.3" cy="83.5" r="1.95" fill="#000"/>
<circle cx="625.4" cy="81.8" r="1.95" fill="#000"/>
<circle cx="630.3" cy="80.6" r="1.95" fill="#000"/>
<circle cx="635.0" cy="80.6" r="1.95" fill="#000"/>
<circle cx="639.8" cy="78.9" r="1.95" fill="#000"/>
<circle cx="644.4" cy="77.6" r="1.95" fill="#000"/>
<circle cx="648.5" cy="76.1" r="1.95" fill="#000"/>
<circle cx="652.6" cy="74.8" r="1.95" fill="#000"/>
<circle cx="660.7" cy="73.3" r="1.95" fill="#000"/>
<circle cx="667.7" cy="72.0" r="1.95" fill="#000"/>
<circle cx="673.8" cy="66.5" r="1.95" fill="#000"/>
<circle cx="679.2" cy="60.2" r="1.95" fill="#000"/>
<circle cx="513.9" cy="86.1" r="2.0" fill="#3fe3f2"/>
<circle cx="520.7" cy="86.1" r="2.0" fill="#3fe3f2"/>
<circle cx="527.1" cy="88.2" r="2.0" fill="#3fe3f2"/>
<circle cx="533.5" cy="88.2" r="2.0" fill="#3fe3f2"/>
<circle cx="539.5" cy="87.6" r="2.0" fill="#3fe3f2"/>
<circle cx="545.9" cy="87.6" r="2.0" fill="#3fe3f2"/>
<circle cx="551.7" cy="85.3" r="2.0" fill="#3fe3f2"/>
<circle cx="557.8" cy="83.8" r="2.0" fill="#3fe3f2"/>
<circle cx="563.9" cy="82.2" r="2.0" fill="#3fe3f2"/>
<circle cx="569.9" cy="81.8" r="2.0" fill="#3fe3f2"/>
<circle cx="576.0" cy="81.8" r="2.0" fill="#3fe3f2"/>
<circle cx="582.2" cy="84.8" r="2.0" fill="#3fe3f2"/>
<circle cx="588.2" cy="85.0" r="2.0" fill="#3fe3f2"/>
<circle cx="594.0" cy="86.3" r="2.0" fill="#3fe3f2"/>
<circle cx="514.3" cy="140.5" r="2.05" fill="#e0102a"/>
<circle cx="520.7" cy="142.0" r="2.05" fill="#e0102a"/>
<circle cx="527.1" cy="142.0" r="2.05" fill="#e0102a"/>
<circle cx="533.1" cy="142.0" r="2.05" fill="#e0102a"/>
<circle cx="539.5" cy="142.0" r="2.05" fill="#e0102a"/>
<circle cx="545.5" cy="140.5" r="2.05" fill="#e0102a"/>
<circle cx="551.7" cy="143.3" r="2.05" fill="#e0102a"/>
<circle cx="557.8" cy="142.0" r="2.05" fill="#e0102a"/>
<circle cx="563.9" cy="140.5" r="2.05" fill="#e0102a"/>
<circle cx="569.9" cy="140.2" r="2.05" fill="#e0102a"/>
<circle cx="576.0" cy="142.0" r="2.05" fill="#e0102a"/>
<circle cx="581.8" cy="142.0" r="2.05" fill="#e0102a"/>
<circle cx="587.8" cy="142.0" r="2.05" fill="#e0102a"/>
<circle cx="593.7" cy="142.0" r="2.05" fill="#e0102a"/>
<circle cx="598.8" cy="142.4" r="2.05" fill="#e0102a"/>
<circle cx="604.3" cy="143.7" r="2.05" fill="#e0102a"/>
<circle cx="609.8" cy="143.3" r="2.05" fill="#e0102a"/>
<circle cx="615.2" cy="143.0" r="2.05" fill="#e0102a"/>
<circle cx="620.3" cy="145.0" r="2.05" fill="#e0102a"/>
<circle cx="625.4" cy="142.0" r="2.05" fill="#e0102a"/>
<circle cx="630.3" cy="145.0" r="2.05" fill="#e0102a"/>
<circle cx="635.0" cy="143.3" r="2.05" fill="#e0102a"/>
<circle cx="639.8" cy="143.3" r="2.05" fill="#e0102a"/>
<circle cx="644.0" cy="142.0" r="2.05" fill="#e0102a"/>
<circle cx="648.5" cy="142.0" r="2.05" fill="#e0102a"/>
<circle cx="652.6" cy="142.0" r="2.05" fill="#e0102a"/>
<circle cx="660.7" cy="142.0" r="2.05" fill="#e0102a"/>
<circle cx="667.7" cy="143.3" r="2.05" fill="#e0102a"/>
<circle cx="679.2" cy="143.7" r="2.05" fill="#e0102a"/>
<line x1="433" y1="49.8" x2="446" y2="46.6" stroke="#e07090" stroke-width="1.2" opacity="0.7"/>
<line x1="650" y1="69" x2="657" y2="68" stroke="#e07090" stroke-width="1.2" opacity="0.7"/>
<rect x="120.8" y="23" width="12.2" height="1" fill="#1a1a1a"/>
<rect x="338.9" y="23" width="12.2" height="1" fill="#1a1a1a"/>
<rect x="561.5" y="23" width="12.2" height="1" fill="#1a1a1a"/>
<rect x="175.1" y="23" width="19.9" height="1" fill="#1a1a1a"/>
<rect x="393.4" y="23" width="19.9" height="1" fill="#1a1a1a"/>
<rect x="616.3" y="23" width="19.9" height="1" fill="#1a1a1a"/>
<text x="63.6" y="211.5" font-family="Liberation Sans" font-size="16" font-weight="normal" font-style="normal" fill="#000" text-anchor="end">2</text>
<text x="63.6" y="155.0" font-family="Liberation Sans" font-size="16" font-weight="normal" font-style="normal" fill="#000" text-anchor="end">6</text>
<text x="63.6" y="97.2" font-family="Liberation Sans" font-size="16" font-weight="normal" font-style="normal" fill="#000" text-anchor="end">10</text>
<text x="71" y="221.8" font-family="Liberation Sans" font-size="16" font-weight="normal" font-style="normal" fill="#000" text-anchor="middle">0</text>
<text x="147.8" y="221.8" font-family="Liberation Sans" font-size="16" font-weight="normal" font-style="normal" fill="#000" text-anchor="middle">1.0</text>
<text x="230.4" y="221.8" font-family="Liberation Sans" font-size="16" font-weight="normal" font-style="normal" fill="#000" text-anchor="middle">2.0</text>
<text transform="translate(41.6,201.4) rotate(-90)" font-family="Liberation Sans" font-size="16.5" fill="#000" textLength="134.5" lengthAdjust="spacingAndGlyphs">Frequency (GHz)</text>
<text x="91.0" y="241.8" font-family="Liberation Sans" font-size="16" font-weight="normal" font-style="italic" fill="#000" >k</text>
<text x="99.6" y="245.6" font-family="Liberation Sans" font-size="14.5" font-weight="normal" font-style="italic" fill="#000" >y</text>
<text x="111.0" y="241.8" font-family="Liberation Sans" font-size="16" font-weight="normal" font-style="normal" fill="#000" >(</text>
<text x="117.0" y="241.8" font-family="Liberation Sans" font-size="16" font-weight="normal" font-style="normal" fill="#000" >10</text>
<text x="135.6" y="237.6" font-family="Liberation Sans" font-size="12" font-weight="normal" font-style="normal" fill="#000" >7</text>
<text x="147.2" y="241.8" font-family="Liberation Sans" font-size="16" font-weight="normal" font-style="normal" fill="#000" >rad</text>
<text x="176.0" y="241.8" font-family="Liberation Sans" font-size="16" font-weight="normal" font-style="normal" fill="#000" >m</text>
<text x="191.6" y="237.4" font-family="Liberation Sans" font-size="11.5" font-weight="normal" font-style="normal" fill="#000" >-</text>
<text x="194.3" y="238.8" font-family="Liberation Sans" font-size="11.5" font-weight="normal" font-style="normal" fill="#000" >1</text>
<text x="203.6" y="241.8" font-family="Liberation Sans" font-size="16" font-weight="normal" font-style="normal" fill="#000" >)</text>
<text x="287.6" y="213.1" font-family="Liberation Sans" font-size="16" font-weight="normal" font-style="normal" fill="#000" text-anchor="end">2</text>
<text x="287.6" y="156.4" font-family="Liberation Sans" font-size="16" font-weight="normal" font-style="normal" fill="#000" text-anchor="end">6</text>
<text x="287.6" y="98.8" font-family="Liberation Sans" font-size="16" font-weight="normal" font-style="normal" fill="#000" text-anchor="end">10</text>
<text x="293" y="221.8" font-family="Liberation Sans" font-size="16" font-weight="normal" font-style="normal" fill="#000" text-anchor="middle">0</text>
<text x="372.20000000000005" y="221.8" font-family="Liberation Sans" font-size="16" font-weight="normal" font-style="normal" fill="#000" text-anchor="middle">1.0</text>
<text x="451.70000000000005" y="221.8" font-family="Liberation Sans" font-size="16" font-weight="normal" font-style="normal" fill="#000" text-anchor="middle">2.0</text>
<text transform="translate(265.0,201.4) rotate(-90)" font-family="Liberation Sans" font-size="16.5" fill="#000" textLength="134.5" lengthAdjust="spacingAndGlyphs">Frequency (GHz)</text>
<text x="318.5" y="241.8" font-family="Liberation Sans" font-size="16" font-weight="normal" font-style="italic" fill="#000" >k</text>
<text x="327.1" y="245.6" font-family="Liberation Sans" font-size="14.5" font-weight="normal" font-style="italic" fill="#000" >y</text>
<text x="338.5" y="241.8" font-family="Liberation Sans" font-size="16" font-weight="normal" font-style="normal" fill="#000" >(</text>
<text x="344.5" y="241.8" font-family="Liberation Sans" font-size="16" font-weight="normal" font-style="normal" fill="#000" >10</text>
<text x="363.1" y="237.6" font-family="Liberation Sans" font-size="12" font-weight="normal" font-style="normal" fill="#000" >7</text>
<text x="374.7" y="241.8" font-family="Liberation Sans" font-size="16" font-weight="normal" font-style="normal" fill="#000" >rad</text>
<text x="403.5" y="241.8" font-family="Liberation Sans" font-size="16" font-weight="normal" font-style="normal" fill="#000" >m</text>
<text x="419.1" y="237.4" font-family="Liberation Sans" font-size="11.5" font-weight="normal" font-style="normal" fill="#000" >-</text>
<text x="421.8" y="238.8" font-family="Liberation Sans" font-size="11.5" font-weight="normal" font-style="normal" fill="#000" >1</text>
<text x="431.1" y="241.8" font-family="Liberation Sans" font-size="16" font-weight="normal" font-style="normal" fill="#000" >)</text>
<text x="509.6" y="213.1" font-family="Liberation Sans" font-size="16" font-weight="normal" font-style="normal" fill="#000" text-anchor="end">2</text>
<text x="509.6" y="156.4" font-family="Liberation Sans" font-size="16" font-weight="normal" font-style="normal" fill="#000" text-anchor="end">6</text>
<text x="509.6" y="98.8" font-family="Liberation Sans" font-size="16" font-weight="normal" font-style="normal" fill="#000" text-anchor="end">10</text>
<text x="515.2" y="221.8" font-family="Liberation Sans" font-size="16" font-weight="normal" font-style="normal" fill="#000" text-anchor="middle">0</text>
<text x="594.8" y="221.8" font-family="Liberation Sans" font-size="16" font-weight="normal" font-style="normal" fill="#000" text-anchor="middle">1.0</text>
<text x="674.0" y="221.8" font-family="Liberation Sans" font-size="16" font-weight="normal" font-style="normal" fill="#000" text-anchor="middle">2.0</text>
<text transform="translate(487.40000000000003,201.4) rotate(-90)" font-family="Liberation Sans" font-size="16.5" fill="#000" textLength="134.5" lengthAdjust="spacingAndGlyphs">Frequency (GHz)</text>
<text x="545.5" y="241.8" font-family="Liberation Sans" font-size="16" font-weight="normal" font-style="italic" fill="#000" >k</text>
<text x="554.1" y="245.6" font-family="Liberation Sans" font-size="14.5" font-weight="normal" font-style="italic" fill="#000" >y</text>
<text x="565.5" y="241.8" font-family="Liberation Sans" font-size="16" font-weight="normal" font-style="normal" fill="#000" >(</text>
<text x="571.5" y="241.8" font-family="Liberation Sans" font-size="16" font-weight="normal" font-style="normal" fill="#000" >10</text>
<text x="590.1" y="237.6" font-family="Liberation Sans" font-size="12" font-weight="normal" font-style="normal" fill="#000" >7</text>
<text x="601.7" y="241.8" font-family="Liberation Sans" font-size="16" font-weight="normal" font-style="normal" fill="#000" >rad</text>
<text x="630.5" y="241.8" font-family="Liberation Sans" font-size="16" font-weight="normal" font-style="normal" fill="#000" >m</text>
<text x="646.1" y="237.4" font-family="Liberation Sans" font-size="11.5" font-weight="normal" font-style="normal" fill="#000" >-</text>
<text x="648.8" y="238.8" font-family="Liberation Sans" font-size="11.5" font-weight="normal" font-style="normal" fill="#000" >1</text>
<text x="658.1" y="241.8" font-family="Liberation Sans" font-size="16" font-weight="normal" font-style="normal" fill="#000" >)</text>
<text transform="translate(124.0,21.5) scale(1.2,1)" font-family="Liberation Serif" font-size="15.5" font-style="italic" fill="#000">π</text>
<text transform="translate(122.39999999999999,32.7) scale(1.12,1)" font-family="Liberation Serif" font-size="16.5" font-style="italic" fill="#000">a</text>
<text transform="translate(342.09999999999997,21.5) scale(1.2,1)" font-family="Liberation Serif" font-size="15.5" font-style="italic" fill="#000">π</text>
<text transform="translate(340.5,32.7) scale(1.12,1)" font-family="Liberation Serif" font-size="16.5" font-style="italic" fill="#000">a</text>
<text transform="translate(564.7,21.5) scale(1.2,1)" font-family="Liberation Serif" font-size="15.5" font-style="italic" fill="#000">π</text>
<text transform="translate(563.1,32.7) scale(1.12,1)" font-family="Liberation Serif" font-size="16.5" font-style="italic" fill="#000">a</text>
<text transform="translate(176.29999999999998,21.8) scale(1.0,1)" font-family="Liberation Serif" font-size="16.5" font-style="normal" fill="#000">2</text>
<text transform="translate(185.2,21.6) scale(1.2,1)" font-family="Liberation Serif" font-size="15.5" font-style="italic" fill="#000">π</text>
<text transform="translate(179.7,32.7) scale(1.12,1)" font-family="Liberation Serif" font-size="16.5" font-style="italic" fill="#000">a</text>
<text transform="translate(394.59999999999997,21.8) scale(1.0,1)" font-family="Liberation Serif" font-size="16.5" font-style="normal" fill="#000">2</text>
<text transform="translate(403.5,21.6) scale(1.2,1)" font-family="Liberation Serif" font-size="15.5" font-style="italic" fill="#000">π</text>
<text transform="translate(398.0,32.7) scale(1.12,1)" font-family="Liberation Serif" font-size="16.5" font-style="italic" fill="#000">a</text>
<text transform="translate(617.5,21.8) scale(1.0,1)" font-family="Liberation Serif" font-size="16.5" font-style="normal" fill="#000">2</text>
<text transform="translate(626.4,21.6) scale(1.2,1)" font-family="Liberation Serif" font-size="15.5" font-style="italic" fill="#000">π</text>
<text transform="translate(620.9,32.7) scale(1.12,1)" font-family="Liberation Serif" font-size="16.5" font-style="italic" fill="#000">a</text>
<text x="18.8" y="24.6" font-family="Liberation Sans" font-size="20" font-weight="bold" font-style="normal" fill="#000" >(a)</text>
<text x="253.5" y="24.6" font-family="Liberation Sans" font-size="20" font-weight="bold" font-style="normal" fill="#000" >(b)</text>
<text x="478.5" y="24.6" font-family="Liberation Sans" font-size="20" font-weight="bold" font-style="normal" fill="#000" >(c)</text>
<text x="55" y="28.8" font-family="Liberation Sans" font-size="17" font-weight="normal" font-style="normal" fill="#000" >F</text>
<text x="65.8" y="33.8" font-family="Liberation Sans" font-size="13" font-weight="normal" font-style="normal" fill="#000" >loc</text>
<text x="293.5" y="54.3" font-family="Liberation Sans" font-size="17" font-weight="normal" font-style="normal" fill="#08082c" >F</text>
<text x="304.2" y="59.4" font-family="Liberation Sans" font-size="13.5" font-weight="normal" font-style="normal" fill="#08082c" >loc</text>
<text x="515.8" y="78.8" font-family="Liberation Sans" font-size="17" font-weight="normal" font-style="normal" fill="#08082c" >F</text>
<text x="526.6" y="83.9" font-family="Liberation Sans" font-size="13.5" font-weight="normal" font-style="normal" fill="#08082c" >loc</text>
<text x="72.5" y="144.4" font-family="Liberation Sans" font-size="17" font-weight="normal" font-style="normal" fill="#08082c" >F</text>
<text x="81.5" y="197.2" font-family="Liberation Sans" font-size="17" font-weight="normal" font-style="normal" fill="#08082c" >E</text>
<text x="292.6" y="132.8" font-family="Liberation Sans" font-size="17" font-weight="normal" font-style="normal" fill="#08082c" >F</text>
<text x="292.3" y="179.8" font-family="Liberation Sans" font-size="17" font-weight="normal" font-style="normal" fill="#08082c" >E</text>
<text x="514.5" y="127" font-family="Liberation Sans" font-size="17" font-weight="normal" font-style="normal" fill="#08082c" >F</text>
<text x="514.3" y="161.0" font-family="Liberation Sans" font-size="17" font-weight="normal" font-style="normal" fill="#08082c" >E</text>
<text x="234" y="199.2" font-family="Liberation Sans" font-size="17" font-weight="normal" font-style="normal" fill="#2a2a62" text-anchor="end">30 nm</text>
<text x="456.8" y="200.1" font-family="Liberation Sans" font-size="17" font-weight="normal" font-style="normal" fill="#2a2a62" text-anchor="end">20 nm</text>
<text x="677.8" y="200.1" font-family="Liberation Sans" font-size="17" font-weight="normal" font-style="normal" fill="#2a2a62" text-anchor="end">12 nm</text>
<path d="M58.6,29.6 C61.6,31.6 60.8,34.4 58.2,36.9 C55.6,39.4 55,41.6 58,42.6 L61.5,43.4" fill="none" stroke="#8a8a8a" stroke-width="0.9"/>
<polygon points="60.2,40.4 68.8,44.4 60.6,47.2" fill="#000"/>
</svg></body></html>
